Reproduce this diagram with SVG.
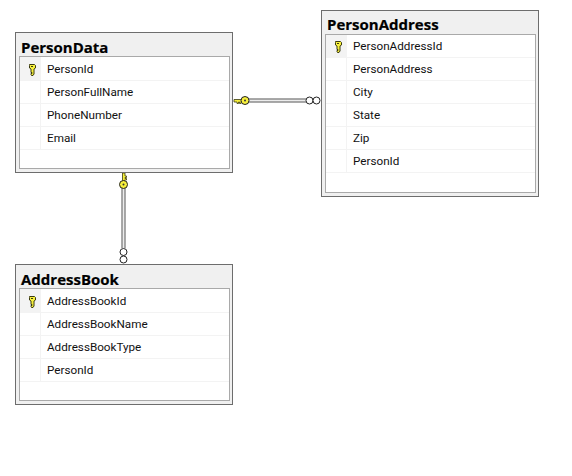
<svg xmlns="http://www.w3.org/2000/svg" width="572" height="476" viewBox="0 0 572 476">
<style>
.box{fill:#f0f0f0;stroke:#6d6d6d;stroke-width:1}
.inner{fill:#fff;stroke:#a9a9a9;stroke-width:1}
.row{stroke:#f3f3f3;stroke-width:1;fill:none}
.sel{fill:#f3f3f3}
.title{font:bold 15px "Open Sans","Liberation Sans",sans-serif;fill:#000;stroke:#000;stroke-width:.2}
.col{font:11.700px Roboto,"Liberation Sans",sans-serif;fill:#111}
.link{fill:none;stroke:#8c8c8c;stroke-width:4.500}
.linkc{fill:none;stroke:#ececec;stroke-width:1.500}
.ring{fill:#fff;stroke:#222;stroke-width:1}
.k{fill:#f7f03c;stroke:#3a3a10;stroke-width:1}
</style>
<defs>
<g id="key">
<path class="k" d="M-2.500 -4.500h5l1 1v2.500l-1.500 1v5l-1 1.500h-1.500l-.5-1v-1h1v-1h-1v-3.500l-1.500-1v-2.500z"/>
<rect x="-1" y="-3" width="2" height="1" fill="#3a3a10"/>
</g>
</defs>
<rect width="572" height="476" fill="#fff"/>
<g id="connectors">
<path class="link" d="M245 100.500H306"/><path class="linkc" d="M245 100.500H306"/>
<path class="link" d="M123.500 185V248"/><path class="linkc" d="M123.500 185V248"/>
<g id="conn-end-1">
<path d="M234 99.500h8v2h-1v2h-1.500v-1.500h-1v1.500h-1.500v-1.500h-3z" fill="#f7f03c" stroke="#3a3a10" stroke-width=".8"/>
<circle cx="245" cy="100.500" r="4" fill="#f7f03c" stroke="#222"/>
<circle cx="245" cy="100.500" r="1" fill="#333"/>
<circle class="ring" cx="309.500" cy="100.500" r="3.500"/>
<circle class="ring" cx="316.500" cy="100.500" r="3.500"/>
</g>
<g id="conn-end-2">
<path d="M122.500 173v8h2v-1h2v-1.500h-1.500v-1h1.500v-1.500h-1.500v-3z" fill="#f7f03c" stroke="#3a3a10" stroke-width=".8"/>
<circle cx="123.500" cy="184.500" r="4" fill="#f7f03c" stroke="#222"/>
<circle cx="123.500" cy="184.500" r="1" fill="#333"/>
<circle class="ring" cx="123.500" cy="252" r="3.500"/>
<circle class="ring" cx="123.500" cy="259.500" r="3.500"/>
</g>
</g>
<g id="PersonData">
<rect class="box" x="15.500" y="32.500" width="217" height="140"/>
<rect class="inner" x="19.500" y="56.500" width="210" height="112"/>
<rect class="sel" x="20" y="57" width="20" height="23"/>
<path class="row" d="M20 80.500H229M20 103.500H229M20 126.500H229M20 149.500H229M40.500 57V150"/>
<text class="title" x="21" y="53">PersonData</text>
<use href="#key" x="32" y="69"/>
<text class="col" x="47" y="73">PersonId</text>
<text class="col" x="47" y="96">PersonFullName</text>
<text class="col" x="47" y="119">PhoneNumber</text>
<text class="col" x="47" y="142">Email</text>
</g>
<g id="PersonAddress">
<rect class="box" x="321.500" y="10.500" width="217" height="186"/>
<rect class="inner" x="325.500" y="34.500" width="210" height="158"/>
<rect class="sel" x="326" y="35" width="20" height="23"/>
<path class="row" d="M326 57.500H535M326 80.500H535M326 103.500H535M326 126.500H535M326 149.500H535M326 172.500H535M346.500 35V173"/>
<text class="title" x="327" y="30">PersonAddress</text>
<use href="#key" x="338" y="46"/>
<text class="col" x="353" y="50">PersonAddressId</text>
<text class="col" x="353" y="73">PersonAddress</text>
<text class="col" x="353" y="96">City</text>
<text class="col" x="353" y="119">State</text>
<text class="col" x="353" y="142">Zip</text>
<text class="col" x="353" y="165">PersonId</text>
</g>
<g id="AddressBook">
<rect class="box" x="15.500" y="264.500" width="217" height="140"/>
<rect class="inner" x="19.500" y="288.500" width="210" height="112"/>
<rect class="sel" x="20" y="289" width="20" height="23"/>
<path class="row" d="M20 312.500H229M20 335.500H229M20 358.500H229M20 381.500H229M40.500 289V382"/>
<text class="title" x="21" y="285">AddressBook</text>
<use href="#key" x="32" y="301"/>
<text class="col" x="47" y="305">AddressBookId</text>
<text class="col" x="47" y="328">AddressBookName</text>
<text class="col" x="47" y="351">AddressBookType</text>
<text class="col" x="47" y="374">PersonId</text>
</g>
</svg>
